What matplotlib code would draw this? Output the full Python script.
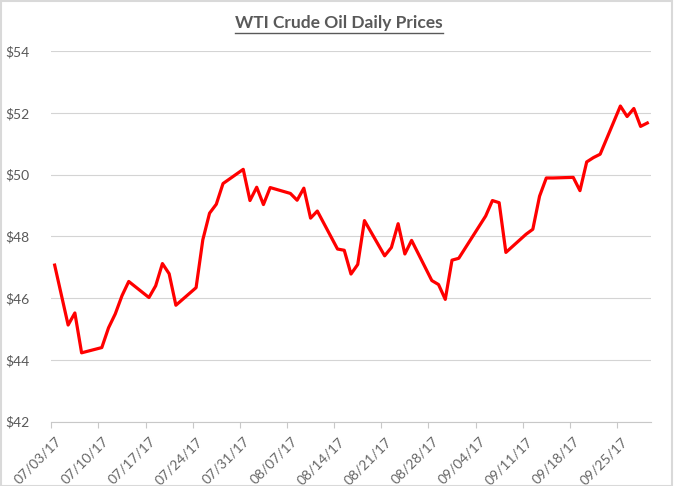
import numpy as np
import matplotlib
matplotlib.use("Agg")
import matplotlib.pyplot as plt
import matplotlib.dates as mdates
from matplotlib.lines import Line2D
from matplotlib.patches import Rectangle

plt.rcParams['font.family'] = ['Lato', 'DejaVu Sans']

dates = np.array([
    '2017-07-03', '2017-07-05', '2017-07-06', '2017-07-07',
    '2017-07-10', '2017-07-11', '2017-07-12', '2017-07-13', '2017-07-14',
    '2017-07-17', '2017-07-18', '2017-07-19', '2017-07-20', '2017-07-21',
    '2017-07-24', '2017-07-25', '2017-07-26', '2017-07-27', '2017-07-28',
    '2017-07-31', '2017-08-01', '2017-08-02', '2017-08-03', '2017-08-04',
    '2017-08-07', '2017-08-08', '2017-08-09', '2017-08-10', '2017-08-11',
    '2017-08-14', '2017-08-15', '2017-08-16', '2017-08-17', '2017-08-18',
    '2017-08-21', '2017-08-22', '2017-08-23', '2017-08-24', '2017-08-25',
    '2017-08-28', '2017-08-29', '2017-08-30', '2017-08-31', '2017-09-01',
    '2017-09-05', '2017-09-06', '2017-09-07', '2017-09-08',
    '2017-09-11', '2017-09-12', '2017-09-13', '2017-09-14', '2017-09-15',
    '2017-09-18', '2017-09-19', '2017-09-20', '2017-09-21', '2017-09-22',
    '2017-09-25', '2017-09-26', '2017-09-27', '2017-09-28', '2017-09-29',
], dtype='datetime64[D]')

prices = [
    47.07, 45.13, 45.52, 44.23,
    44.40, 45.04, 45.49, 46.08, 46.54,
    46.02, 46.40, 47.12, 46.79, 45.77,
    46.34, 47.89, 48.75, 49.04, 49.71,
    50.17, 49.16, 49.59, 49.03, 49.58,
    49.39, 49.17, 49.56, 48.59, 48.82,
    47.59, 47.55, 46.78, 47.09, 48.51,
    47.37, 47.64, 48.41, 47.43, 47.87,
    46.57, 46.44, 45.96, 47.23, 47.29,
    48.66, 49.16, 49.09, 47.48,
    48.07, 48.23, 49.30, 49.89, 49.89,
    49.91, 49.48, 50.41, 50.55, 50.66,
    52.22, 51.88, 52.14, 51.56, 51.67,
]

tick_dates = np.arange(np.datetime64('2017-07-03'), np.datetime64('2017-09-26'), 7)
y_ticks = [42, 44, 46, 48, 50, 52, 54]

fig = plt.figure(figsize=(6.74, 4.86), dpi=100)
ax = fig.add_axes([0.0761, 0.1323, 0.8893, 0.7627])

# Excel date axis: each point sits in the middle of its day
x = mdates.date2num(dates) + 0.5
ax.plot(x, prices, color='#ff0000', lw=2.3, solid_joinstyle='round', zorder=3)

ax.set_xlim(mdates.date2num(np.datetime64('2017-07-03')),
            mdates.date2num(np.datetime64('2017-09-30')))
ax.set_ylim(42, 54)
ax.set_yticks(y_ticks)
ax.set_yticklabels(['$%d' % v for v in y_ticks])
tick_x = mdates.date2num(tick_dates)
ax.set_xticks(tick_x)
ax.set_xticklabels([])

ax.grid(axis='y', color='#d4d4d4', lw=0.8)
ax.set_axisbelow(True)
for s in ['top', 'right', 'left']:
    ax.spines[s].set_visible(False)
ax.spines['bottom'].set_color('#c8c8c8')
ax.spines['bottom'].set_linewidth(0.8)

ax.tick_params(axis='y', length=0, pad=16, labelsize=10, labelcolor='#595959')
ax.tick_params(axis='x', length=4, width=0.8, color='#c8c8c8')

# rotated date labels, placed like Excel does
for tx, d in zip(tick_x, tick_dates.astype(object)):
    ax.annotate(d.strftime('%m/%d/%y'), xy=(tx, 0), xycoords=ax.get_xaxis_transform(),
                xytext=(2.7, -9.6), textcoords='offset points',
                rotation=45, ha='right', va='top', rotation_mode='anchor',
                fontsize=10, color='#666666', annotation_clip=False)

title = fig.text(0.503, 0.953, 'WTI Crude Oil Daily Prices', ha='center', va='center',
                 fontsize=12.5, fontweight='bold', color='#595959')

# underline the title
fig.canvas.draw()
bb = title.get_window_extent().transformed(fig.transFigure.inverted())
fig.add_artist(Line2D([bb.x0, bb.x1], [bb.y0 - 0.004, bb.y0 - 0.004],
                      transform=fig.transFigure, color='#595959', lw=1.0))

# light chart border
fig.add_artist(Rectangle((0.001, 0.001), 0.996, 0.996, transform=fig.transFigure,
                         fill=False, edgecolor='#d9d9d9', lw=1.5))

fig.savefig('out.png', dpi=100)
